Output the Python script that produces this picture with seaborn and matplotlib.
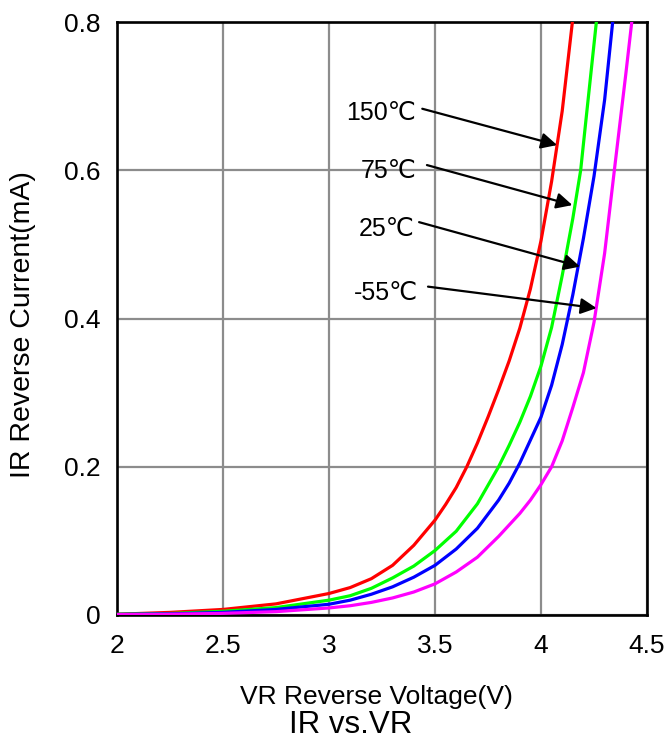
import pandas as pd
import matplotlib.pyplot as plt
import seaborn as sns

# ---------- DATA ----------
temps = ['150℃', '75℃', '25℃', '-55℃']
colors = ['#FF0000', '#00FF00', '#0000FF', '#FF00FF']

vr_150 = [2.0, 2.25, 2.5, 2.75, 3.0, 3.1, 3.2, 3.3, 3.4, 3.5, 3.55, 3.6, 3.65, 3.7, 3.75,
          3.8, 3.85, 3.9, 3.95, 4.0, 4.05, 4.1, 4.148]
ir_150 = [0.001, 0.0035, 0.0075, 0.015, 0.029, 0.037, 0.049, 0.067, 0.094, 0.128, 0.149, 0.172,
          0.2, 0.232, 0.267, 0.304, 0.343, 0.387, 0.44, 0.505, 0.585, 0.68, 0.8]

vr_75 = [2.0, 2.25, 2.5, 2.75, 3.0, 3.1, 3.2, 3.3, 3.4, 3.5, 3.6, 3.7, 3.8, 3.85, 3.9,
         3.95, 4.0, 4.05, 4.1, 4.15, 4.187, 4.212, 4.261]
ir_75 = [0.001, 0.002, 0.005, 0.010, 0.020, 0.026, 0.036, 0.050, 0.066, 0.087, 0.113, 0.150,
         0.2, 0.229, 0.26, 0.295, 0.336, 0.388, 0.458, 0.535, 0.6, 0.668, 0.8]

vr_25 = [2.0, 2.25, 2.5, 2.75, 3.0, 3.1, 3.2, 3.3, 3.4, 3.5, 3.6, 3.7, 3.8, 3.85, 3.9,
         3.95, 4.0, 4.05, 4.1, 4.15, 4.2, 4.25, 4.3, 4.338]
ir_25 = [0.0008, 0.0015, 0.0035, 0.0075, 0.0145, 0.020, 0.028, 0.038, 0.051, 0.067, 0.089, 0.117,
         0.155, 0.178, 0.205, 0.236, 0.267, 0.31, 0.365, 0.432, 0.508, 0.592, 0.695, 0.8]

vr_m55 = [2.0, 2.25, 2.5, 2.75, 3.0, 3.1, 3.2, 3.3, 3.4, 3.5, 3.6, 3.7, 3.8, 3.9, 3.95,
          4.0, 4.05, 4.1, 4.15, 4.2, 4.25, 4.3, 4.35, 4.4, 4.428]
ir_m55 = [0.0005, 0.001, 0.0022, 0.0045, 0.0095, 0.0125, 0.017, 0.023, 0.031, 0.042, 0.058, 0.078,
          0.106, 0.137, 0.155, 0.176, 0.2, 0.235, 0.28, 0.327, 0.395, 0.488, 0.61, 0.73, 0.8]

x_ticks = [2, 2.5, 3, 3.5, 4, 4.5]
x_tick_labels = ['2', '2.5', '3', '3.5', '4', '4.5']
y_ticks = [0, 0.2, 0.4, 0.6, 0.8]
y_tick_labels = ['0', '0.2', '0.4', '0.6', '0.8']

series = [(vr_150, ir_150), (vr_75, ir_75), (vr_25, ir_25), (vr_m55, ir_m55)]
df = pd.concat(
    [pd.DataFrame({'VR': v, 'IR': i, 'Temp': t}) for t, (v, i) in zip(temps, series)],
    ignore_index=True,
)

# ---------- PLOT ----------
sns.set_theme(style='white')
plt.rcParams['font.family'] = ['Liberation Sans', 'DejaVu Sans']
plt.rcParams['text.color'] = 'black'
plt.rcParams['axes.labelcolor'] = 'black'

fig = plt.figure(figsize=(6.68, 7.44), dpi=100)
ax = fig.add_axes([0.1751, 0.1734, 0.7935, 0.797])

sns.lineplot(data=df, x='VR', y='IR', hue='Temp', palette=dict(zip(temps, colors)),
             sort=False, estimator=None, lw=2.3, legend=False, ax=ax, zorder=3)
for line in ax.get_lines():
    line.set_solid_joinstyle('round')

ax.set_xlim(2, 4.5)
ax.set_ylim(0, 0.8)
ax.set_xticks(x_ticks, x_tick_labels)
ax.set_yticks(y_ticks, y_tick_labels)
ax.grid(True, color='#8c8c8c', lw=1.6, zorder=0)
ax.set_axisbelow(True)
for s in ax.spines.values():
    s.set_color('black')
    s.set_linewidth(1.9)
ax.tick_params(axis='both', length=0, labelsize=19, colors='black')
ax.tick_params(axis='x', pad=14)
ax.tick_params(axis='y', pad=12)

ax.set_xlabel('VR Reverse Voltage(V)', fontsize=19, color='black')
ax.xaxis.set_label_coords(0.49, -0.118)
ax.set_ylabel('IR Reverse Current(mA)', fontsize=20.5, color='black')
ax.yaxis.set_label_coords(-0.152, 0.489)

fig.text(0.5247, 0.026, 'IR vs.VR', fontsize=22.5, ha='center', va='center', color='black')

# annotations: label, text anchor (right edge), arrow start, arrow tip
notes = [
    ('150℃', (3.41, 0.677), (3.44, 0.683), (4.076, 0.634)),
    ('75℃', (3.415, 0.599), (3.462, 0.607), (4.148, 0.553)),
    ('25℃', (3.406, 0.521), (3.425, 0.530), (4.184, 0.470)),
    ('-55℃', (3.42, 0.435), (3.467, 0.443), (4.262, 0.414)),
]
for label, txt, start, tip in notes:
    ax.text(txt[0], txt[1], label, fontsize=18, ha='right', va='center', color='black', zorder=5)
    ax.annotate('', xy=tip, xytext=start,
                arrowprops=dict(arrowstyle='-|>', color='black', lw=1.6,
                                mutation_scale=24, shrinkA=0, shrinkB=0), zorder=5)

fig.savefig('out.png', dpi=100)
